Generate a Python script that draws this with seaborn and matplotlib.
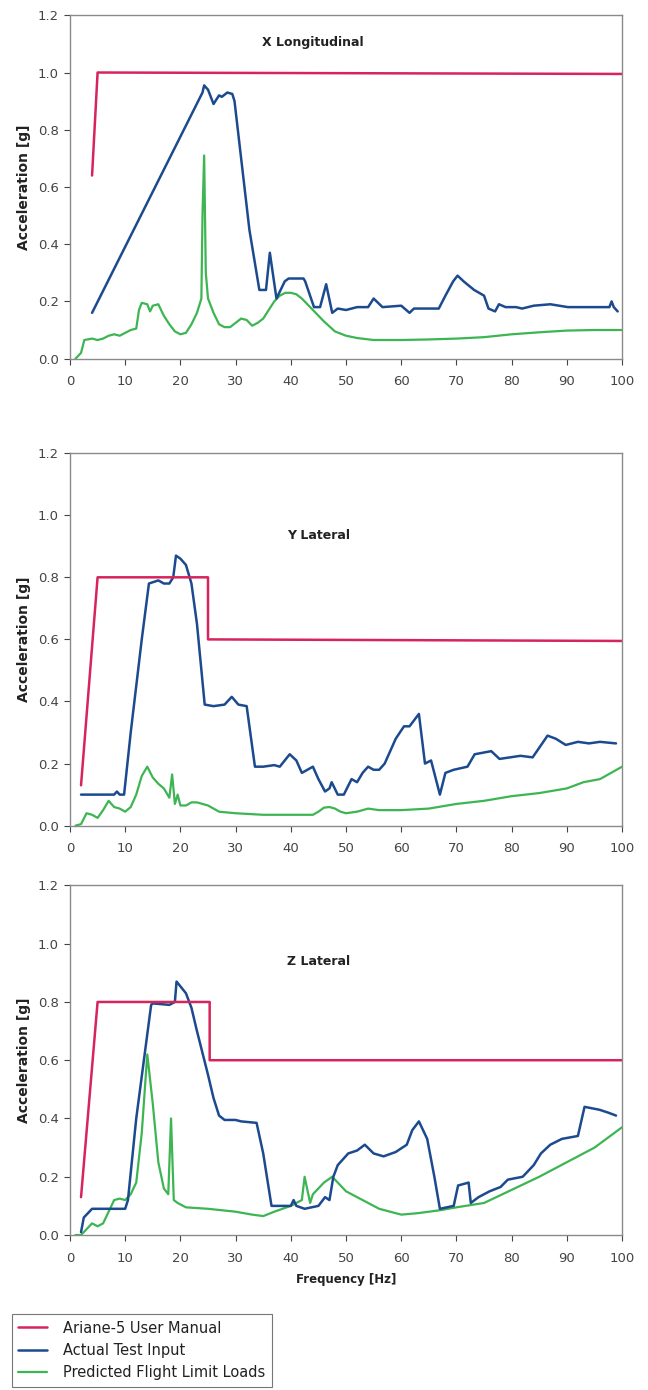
import matplotlib
matplotlib.use('Agg')
import matplotlib.pyplot as plt
import seaborn as sns

# X Longitudinal
x_red_f = [4, 5, 100]
x_red_a = [0.64, 1.0, 0.995]
x_blue_f = [4, 24, 24.3, 25, 26, 27, 27.5, 28.5, 29.4, 29.8, 31, 32.5, 34.3, 35.5, 36.2, 37.4, 38.9,
            39.6, 42.3, 42.6, 44.2, 45.3, 46.4, 47.5, 48.5, 50, 52, 54, 55, 56.6, 60, 61.5, 62.3, 66.8,
            68, 69.4, 70.2, 71.3, 73.2, 75, 75.8, 77, 77.7, 78.9, 80.8, 81.9, 84, 87, 90.2, 97.7, 98.1,
            98.5, 99.2]
x_blue_a = [0.16, 0.93, 0.955, 0.94, 0.89, 0.92, 0.915, 0.93, 0.925, 0.90, 0.70, 0.45, 0.24, 0.24,
            0.37, 0.21, 0.27, 0.28, 0.28, 0.27, 0.18, 0.18, 0.26, 0.16, 0.175, 0.17, 0.18, 0.18, 0.21,
            0.18, 0.185, 0.16, 0.175, 0.175, 0.22, 0.27, 0.29, 0.27, 0.24, 0.22, 0.175, 0.165, 0.19,
            0.18, 0.18, 0.175, 0.185, 0.19, 0.18, 0.18, 0.20, 0.18, 0.165]
x_green_f = [1, 2, 2.6, 4, 5, 6, 7, 8, 9, 10, 11, 12, 12.5, 13, 14, 14.5, 15, 16, 17, 18, 19, 20, 21,
             22, 23, 23.8, 24, 24.3, 24.6, 25, 26, 27, 28, 29, 30, 31, 32, 33, 34, 35, 36, 37, 38, 39,
             40, 41, 42, 44, 46, 48, 50, 52, 55, 60, 65, 70, 75, 80, 85, 90, 95, 100]
x_green_a = [0, 0.02, 0.065, 0.07, 0.065, 0.07, 0.08, 0.085, 0.08, 0.09, 0.1, 0.105, 0.17, 0.195,
             0.19, 0.165, 0.185, 0.19, 0.15, 0.12, 0.095, 0.085, 0.09, 0.12, 0.16, 0.21, 0.5, 0.71,
             0.3, 0.21, 0.16, 0.12, 0.11, 0.11, 0.125, 0.14, 0.135, 0.115, 0.125, 0.14, 0.17, 0.2,
             0.22, 0.23, 0.23, 0.225, 0.21, 0.17, 0.13, 0.095, 0.08, 0.072, 0.065, 0.065, 0.067,
             0.07, 0.075, 0.085, 0.092, 0.098, 0.1, 0.1]

# Y Lateral
y_red_f = [2, 5, 25, 25, 100]
y_red_a = [0.13, 0.8, 0.8, 0.6, 0.595]
y_blue_f = [2, 8, 8.5, 9, 9.8, 11, 12, 13, 14.3, 16, 17, 18, 18.7, 19.2, 20, 21, 22, 23, 24.4, 26,
            28, 29.3, 30.5, 32, 33.5, 35, 37, 38, 39.8, 41, 42, 43, 44, 45, 46.2, 47, 47.4, 48.5, 49.6,
            51, 52, 53, 54, 55, 56, 57, 59, 60.5, 61.5, 63.2, 64.3, 65.4, 67, 68, 69.5, 72, 73.3,
            76.3, 77.8, 81.6, 83.8, 86.5, 88, 89.8, 92, 94, 96, 98.9]
y_blue_a = [0.1, 0.1, 0.11, 0.1, 0.1, 0.3, 0.45, 0.6, 0.78, 0.79, 0.78, 0.78, 0.8, 0.87, 0.86, 0.84,
            0.78, 0.65, 0.39, 0.385, 0.39, 0.415, 0.39, 0.385, 0.19, 0.19, 0.195, 0.19, 0.23, 0.21,
            0.17, 0.18, 0.19, 0.15, 0.11, 0.12, 0.14, 0.1, 0.1, 0.15, 0.14, 0.17, 0.19, 0.18, 0.18,
            0.2, 0.28, 0.32, 0.32, 0.36, 0.2, 0.21, 0.1, 0.17, 0.18, 0.19, 0.23, 0.24, 0.215, 0.225,
            0.22, 0.29, 0.28, 0.26, 0.27, 0.265, 0.27, 0.265]
y_green_f = [1, 2, 3, 4, 5, 6, 7, 8, 9, 10, 11, 12, 13, 14, 15, 16, 17, 18, 18.5, 19, 19.5, 20, 21,
             22, 23, 25, 27, 30, 35, 40, 44, 45, 46, 47, 48, 49, 50, 52, 54, 56, 60, 65, 70, 75, 80,
             85, 90, 93, 96, 100]
y_green_a = [0, 0.005, 0.04, 0.035, 0.025, 0.05, 0.08, 0.06, 0.055, 0.045, 0.06, 0.1, 0.16, 0.19,
             0.155, 0.135, 0.12, 0.09, 0.165, 0.07, 0.1, 0.065, 0.065, 0.075, 0.075, 0.065, 0.045,
             0.04, 0.035, 0.035, 0.035, 0.045, 0.058, 0.06, 0.055, 0.045, 0.04, 0.045, 0.055, 0.05,
             0.05, 0.055, 0.07, 0.08, 0.095, 0.105, 0.12, 0.14, 0.15, 0.19]

# Z Lateral
z_red_f = [2, 5, 25.3, 25.3, 100]
z_red_a = [0.13, 0.8, 0.8, 0.6, 0.6]
z_blue_f = [2, 2.5, 4, 9, 10, 10.5, 12, 14.7, 15, 18, 19, 19.3, 21, 22, 23, 25, 26, 27, 28, 30, 31,
            33.8, 35, 36.5, 40, 40.5, 41, 42.5, 45, 46.2, 47, 47.7, 48.5, 50.4, 52, 53.4, 55, 56.8,
            59, 61, 62, 63.2, 64.7, 66, 67, 69.5, 70.3, 72.2, 72.6, 74, 76, 78, 79.3, 82, 84, 85.3,
            87, 89.1, 92, 93.2, 95.9, 97.5, 98.9]
z_blue_a = [0.01, 0.06, 0.09, 0.09, 0.09, 0.12, 0.4, 0.79, 0.795, 0.79, 0.8, 0.87, 0.83, 0.78, 0.7,
            0.55, 0.47, 0.41, 0.395, 0.395, 0.39, 0.385, 0.28, 0.1, 0.1, 0.12, 0.1, 0.09, 0.1, 0.13,
            0.12, 0.2, 0.24, 0.28, 0.29, 0.31, 0.28, 0.27, 0.285, 0.31, 0.36, 0.39, 0.33, 0.2, 0.09,
            0.1, 0.17, 0.18, 0.11, 0.13, 0.15, 0.165, 0.19, 0.2, 0.24, 0.28, 0.31, 0.33, 0.34, 0.44,
            0.43, 0.42, 0.41]
z_green_f = [1, 2, 3, 4, 5, 6, 7, 8, 9, 10, 11, 12, 13, 14, 15, 16, 17, 17.8, 18.3, 18.8, 19.5, 21,
             25, 30, 33, 35, 37, 40, 41, 42, 42.5, 43.5, 44, 46, 47.5, 49, 50, 53, 56, 60, 63, 67, 70,
             75, 80, 85, 90, 95, 100]
z_green_a = [0, 0, 0.02, 0.04, 0.03, 0.04, 0.08, 0.12, 0.125, 0.12, 0.14, 0.18, 0.35, 0.62, 0.45,
             0.25, 0.16, 0.14, 0.4, 0.12, 0.11, 0.095, 0.09, 0.08, 0.07, 0.065, 0.08, 0.1, 0.11, 0.12,
             0.2, 0.11, 0.14, 0.18, 0.2, 0.17, 0.15, 0.12, 0.09, 0.07, 0.075, 0.085, 0.095, 0.11,
             0.155, 0.2, 0.25, 0.3, 0.37]

titles = ['X Longitudinal', 'Y Lateral', 'Z Lateral']
legend_labels = ['Ariane-5 User Manual', 'Actual Test Input', 'Predicted Flight Limit Loads']
red = '#d6245c'
blue = '#1c4a8e'
green = '#3db552'

sns.set_style('ticks')
plt.rcParams['font.family'] = ['DejaVu Sans']

fig = plt.figure(figsize=(6.48, 13.9), dpi=100)
boxes = [[0.108, 0.742, 0.852, 0.247],
         [0.108, 0.406, 0.852, 0.268],
         [0.108, 0.1115, 0.852, 0.2515]]
panels = [(x_red_f, x_red_a, x_blue_f, x_blue_a, x_green_f, x_green_a),
          (y_red_f, y_red_a, y_blue_f, y_blue_a, y_green_f, y_green_a),
          (z_red_f, z_red_a, z_blue_f, z_blue_a, z_green_f, z_green_a)]
title_pos = [(44, 1.105), (45, 0.935), (45, 0.94)]

for i, (rf, ra, bf, ba, gf, ga) in enumerate(panels):
    ax = fig.add_axes(boxes[i])
    sns.lineplot(x=gf, y=ga, ax=ax, color=green, lw=1.6, sort=False, estimator=None,
                 label=legend_labels[2])
    sns.lineplot(x=bf, y=ba, ax=ax, color=blue, lw=1.8, sort=False, estimator=None,
                 label=legend_labels[1])
    sns.lineplot(x=rf, y=ra, ax=ax, color=red, lw=1.8, sort=False, estimator=None,
                 label=legend_labels[0])
    ax.set_xlim(0, 100)
    ax.set_ylim(0, 1.2)
    ax.set_xticks(range(0, 101, 10))
    ax.set_yticks([0, 0.2, 0.4, 0.6, 0.8, 1.0, 1.2])
    ax.set_yticklabels(['0.0', '0.2', '0.4', '0.6', '0.8', '1.0', '1.2'])
    ax.tick_params(labelsize=9.5, colors='#444444', length=4, width=0.8, direction='out')
    ax.tick_params(axis='x', pad=8)
    ax.tick_params(axis='y', pad=4)
    for s in ax.spines.values():
        s.set_visible(True)
        s.set_color('#8a8a8a')
        s.set_linewidth(1.0)
    ax.set_ylabel('Acceleration [g]', fontsize=10, fontweight='bold', color='#222222', labelpad=5)
    ax.set_xlabel('')
    ax.text(title_pos[i][0], title_pos[i][1], titles[i], ha='center', va='center',
            fontsize=9, fontweight='bold', color='#222222')
    ax.get_legend().remove()
    if i == 2:
        ax.set_xlabel('Frequency [Hz]', fontsize=8.5, fontweight='bold', color='#222222', labelpad=6)
        handles, labels = ax.get_legend_handles_labels()

handles = handles[::-1]
labels = labels[::-1]
leg = fig.legend(handles, labels, loc='upper left', bbox_to_anchor=(0.018, 0.0547),
                 borderaxespad=0, frameon=True, fancybox=False, edgecolor='#555555',
                 fontsize=10.5, handlelength=2.0, handletextpad=1.1, borderpad=0.45,
                 labelspacing=0.5)
leg.get_frame().set_linewidth(0.8)
for t in leg.get_texts():
    t.set_color('#222222')

fig.savefig('out.png', dpi=100)
